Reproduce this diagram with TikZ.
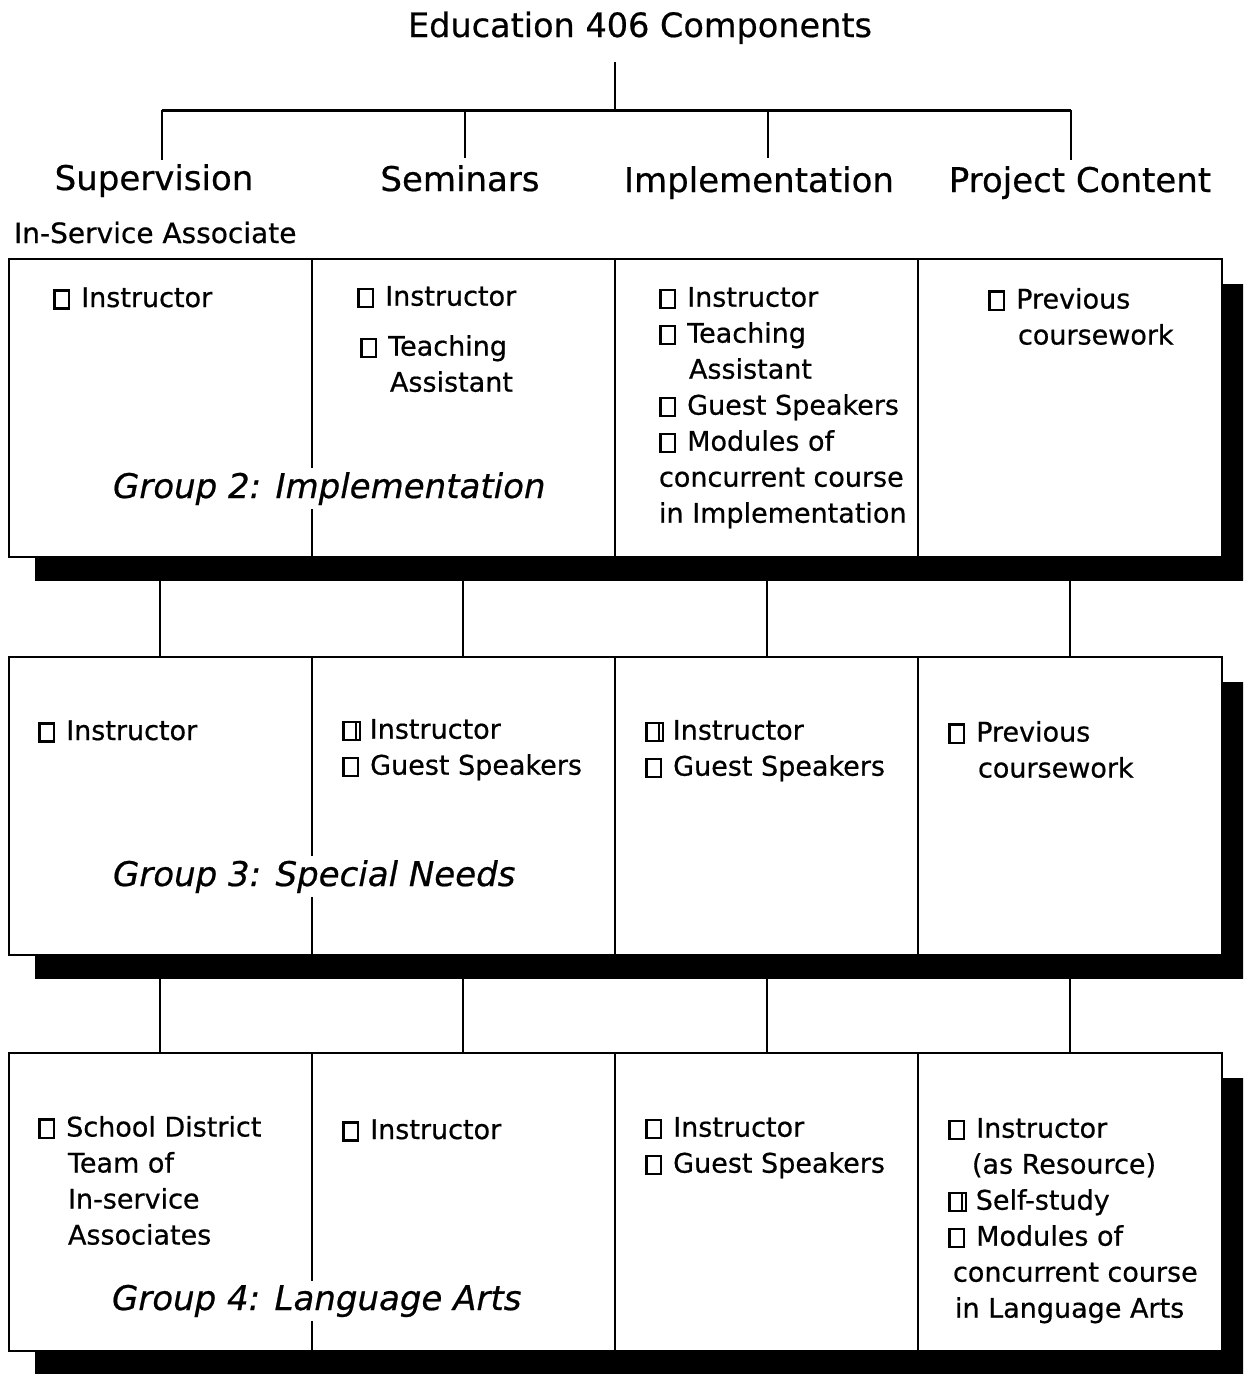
\documentclass[tikz,border=0pt]{standalone}
\usepackage{fontspec}
\setmainfont{DejaVu Sans}[FakeBold=0.6]

% plain check box and the boxed variant with an inner bar
\newcommand\cbx{{\setlength\fboxsep{0pt}\setlength\fboxrule{2.6pt}\fbox{\rule{0pt}{15.5pt}\hspace{12pt}}}\hspace{11pt}}
\newcommand\cbd{{\setlength\fboxsep{0pt}\setlength\fboxrule{2.6pt}\fbox{\rule{0pt}{15.5pt}\hspace{10pt}\rule{2.6pt}{15.5pt}\hspace{1.5pt}}}\hspace{8.5pt}}
\newcommand\ind{\hspace{30pt}}

\begin{document}
\begin{tikzpicture}[x=1pt,y=-1pt,
  every node/.style={inner sep=0pt, outer sep=0pt},
  hdr/.style={font=\fontsize{34}{40}\selectfont, anchor=base},
  % cell text: the given point is the baseline of the first line
  cell/.style={font=\fontsize{27}{36}\selectfont, anchor=north west, align=left,
               yshift=22pt, execute at begin node={\rule{0pt}{22pt}}},
  grp/.style={font=\fontsize{34}{40}\selectfont\itshape, anchor=base west,
              fill=white, inner xsep=0pt, inner ysep=4pt},
  panel/.style={draw, line width=2.5pt, fill=white, anchor=north west,
                minimum width=1213pt, minimum height=298pt},
  shade/.style={fill=black},
  wire/.style={line width=2pt},
  bus/.style={line width=3pt},
  divider/.style={line width=2pt}]

\useasboundingbox (0,0) rectangle (1243,1374);
\clip (0,0) rectangle (1243,1374);

% ---------- title and component tree ----------
\node[hdr, font=\fontsize{33.5}{40}\selectfont] (title) at (640,37) {Education 406 Components};
\coordinate (root) at (615,62);
\coordinate (hub) at (615,110);
\coordinate (busL) at (162,110);
\coordinate (busR) at (1071,110);

\node[hdr] (sup) at (154,190) {Supervision};
\node[hdr] (sem) at (460,191) {Seminars};
\node[hdr] (imp) at (759,192) {Implementation};
\node[hdr] (prj) at (1080,192) {Project Content};

\coordinate (d1) at (162,160);
\coordinate (d2) at (465,158);
\coordinate (d3) at (768,158);
\coordinate (d4) at (1071,160);

\draw[wire] (root) -- (hub);
\draw[bus] (busL) -- (busR);
\foreach \d in {d1,d2,d3,d4} \draw[wire] (\d |- hub) -- (\d);

\node[hdr, anchor=base west, font=\fontsize{28}{34}\selectfont] (isa) at (14,243) {In-Service Associate};

% ---------- three group panels with drop shadows ----------
\foreach \n/\y in {g2/259, g3/657, g4/1053} {
  \fill[shade] (35,\y+25) rectangle (1260,\y+322);
  \node[panel] (\n) at (9,\y) {};
  \foreach \cx in {312,615,918}
    \draw[divider] (\cx,\y) -- (\cx,\y+298);
}

% connectors between panels
\foreach \cx/\i in {160/1,463/2,767/3,1070/4} {
  \coordinate (a\i) at (\cx,581);
  \coordinate (b\i) at (\cx,979);
  \draw[wire] (a\i) -- (a\i |- g3.north);
  \draw[wire] (b\i) -- (b\i |- g4.north);
}

% ---------- Group 2 ----------
\node[grp] (l2) at (113,498) {Group 2: Implementation};
\node[cell] (t21) at (53,307) {\cbx Instructor};
\node[cell] (t22) at (357,308) {\cbx Instructor\\[14pt]\hspace{3pt}\cbx Teaching\\\hspace{3pt}\ind Assistant};
\node[cell] (t23) at (659,309) {\cbx Instructor\\\cbx Teaching\\\ind Assistant\\\cbx Guest Speakers\\\cbx Modules of\\concurrent course\\in Implementation};
\node[cell] (t24) at (988,310) {\cbx Previous\\\ind coursework};

% ---------- Group 3 ----------
\node[grp] (l3) at (113,886) {Group 3: Special Needs};
\node[cell] (t31) at (38,740) {\cbx Instructor};
\node[cell] (t32) at (342,741) {\cbd Instructor\\\cbx Guest Speakers};
\node[cell] (t33) at (645,742) {\cbd Instructor\\\cbx Guest Speakers};
\node[cell] (t34) at (948,743) {\cbx Previous\\\ind coursework};

% ---------- Group 4 ----------
\node[grp] (l4) at (112,1310) {Group 4: Language Arts};
\node[cell] (t41) at (38,1138) {\cbx School District\\\ind Team of\\\ind In-service\\\ind Associates};
\node[cell] (t42) at (342,1139) {\cbx Instructor};
\node[cell] (t43) at (645,1139) {\cbx Instructor\\\cbx Guest Speakers};
\node[cell] (t44) at (948,1140) {\cbx Instructor\\\hspace{24pt}(as Resource)\\\cbd Self-study\\\cbx Modules of\\\hspace{5pt}concurrent course\\\hspace{7pt}in Language Arts};

\end{tikzpicture}
\end{document}
